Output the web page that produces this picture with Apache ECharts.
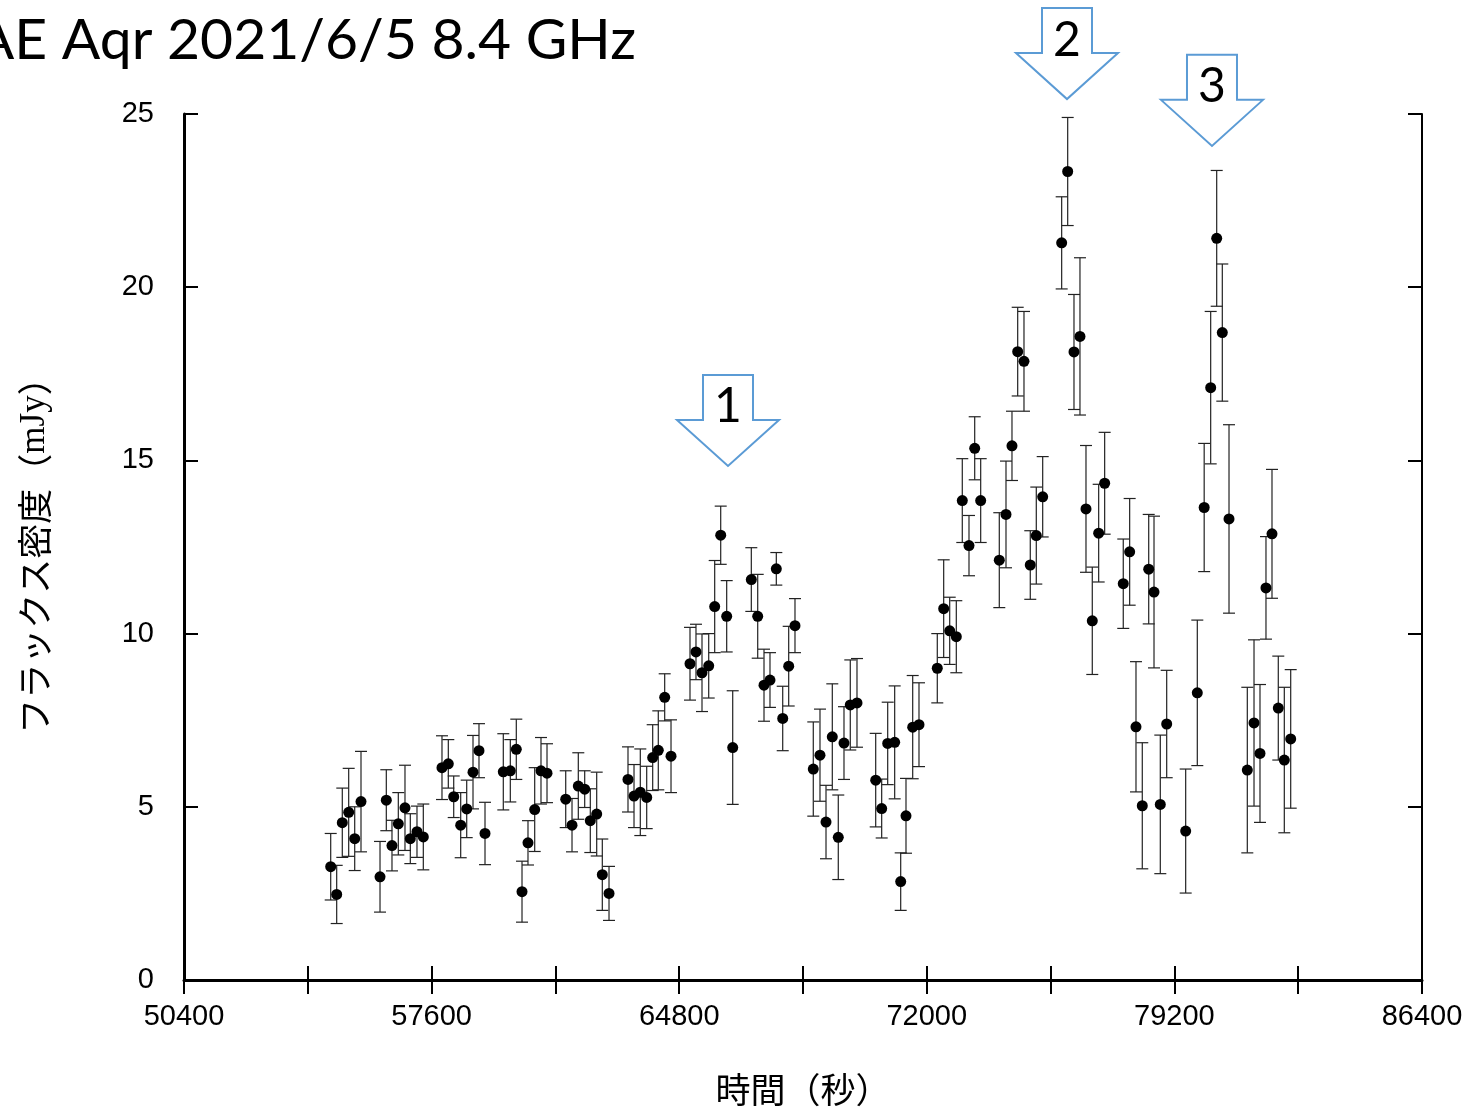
<!DOCTYPE html>
<html>
<head>
<meta charset="utf-8">
<script src="https://cdn.jsdelivr.net/npm/echarts@6/dist/echarts.min.js"></script>
<style>
  html, body { margin: 0; padding: 0; background: #fff; }
  #chart { width: 1474px; height: 1109px; }
</style>
</head>
<body>
<div id="chart"></div>
<script>
// 観測時刻 (秒)
var timeSec = [
  54666, 54840, 55003, 55189, 55364, 55547, 56100, 56283, 56448, 56632,
  56826, 56981, 57175, 57359, 57902, 58086, 58243, 58446, 58621, 58804,
  58978, 59153, 59685, 59889, 60063, 60229, 60403, 60598, 60781, 60956,
  61500, 61683, 61866, 62052, 62215, 62401, 62564, 62759, 63311, 63486,
  63669, 63855, 64029, 64192, 64378, 64562, 65114, 65288, 65463, 65658,
  65832, 66007, 66181, 66356, 66897, 67083, 67266, 67440, 67624, 67810,
  67984, 68167, 68699, 68894, 69069, 69252, 69426, 69592, 69775, 69970,
  70514, 70688, 70863, 71066, 71241, 71395, 71590, 71773, 72305, 72491,
  72666, 72858, 73032, 73227, 73393, 73567, 74108, 74303, 74477, 74643,
  74826, 75009, 75184, 75370, 75922, 76097, 76280, 76454, 76629, 76812,
  76998, 77172, 77713, 77899, 78083, 78266, 78453, 78607, 78790, 78976,
  79528, 79866, 80066, 80255, 80430, 80593, 80788, 81320, 81515, 81689,
  81863, 82038, 82221, 82396, 82582
];
// フラックス密度 (mJy)
var flux = [
  3.27, 2.47, 4.54, 4.84, 4.08, 5.15, 2.98, 5.19, 3.88, 4.51,
  4.97, 4.08, 4.28, 4.13, 6.13, 6.24, 5.29, 4.47, 4.94, 6.00,
  6.62, 4.23, 6.01, 6.04, 6.66, 2.55, 3.96, 4.92, 6.04, 5.97,
  5.22, 4.47, 5.60, 5.51, 4.60, 4.79, 3.04, 2.50, 5.79, 5.31,
  5.42, 5.27, 6.42, 6.63, 8.16, 6.46, 9.13, 9.47, 8.87, 9.07,
  10.78, 12.84, 10.50, 6.71, 11.56, 10.50, 8.51, 8.66, 11.87, 7.55,
  9.06, 10.23, 6.09, 6.49, 4.56, 7.02, 4.12, 6.84, 7.94, 8.00,
  5.77, 4.95, 6.83, 6.86, 2.84, 4.74, 7.30, 7.37, 9.00, 10.72,
  10.08, 9.91, 13.84, 12.54, 15.35, 13.84, 12.12, 13.44, 15.42, 18.14,
  17.86, 11.98, 12.83, 13.95, 21.28, 23.34, 18.13, 18.58, 13.60, 10.37,
  12.90, 14.34, 11.44, 12.36, 7.31, 5.03, 11.86, 11.20, 5.07, 7.39,
  4.30, 8.29, 13.64, 17.10, 21.41, 18.69, 13.31, 6.06, 7.42, 6.54,
  11.32, 12.88, 7.85, 6.35, 6.96
];
// 誤差 (mJy)
var fluxErr = [
  0.96, 0.84, 1.00, 1.27, 0.92, 1.45, 1.02, 0.88, 0.73, 0.90,
  1.23, 0.72, 0.74, 0.95, 0.92, 0.70, 0.60, 0.94, 0.83, 1.06,
  0.78, 0.90, 1.10, 0.90, 0.87, 0.88, 0.64, 1.21, 0.96, 0.85,
  0.82, 0.77, 0.96, 0.53, 0.92, 1.21, 1.03, 0.78, 0.94, 0.91,
  1.25, 0.90, 0.95, 1.14, 0.68, 1.05, 1.05, 0.80, 1.12, 0.93,
  1.33, 0.84, 1.03, 1.64, 0.92, 1.21, 1.04, 0.79, 0.47, 0.93,
  1.15, 0.78, 1.36, 1.33, 1.06, 1.53, 1.22, 1.05, 1.30, 1.28,
  1.35, 0.85, 1.19, 1.63, 0.83, 1.08, 1.49, 1.21, 1.00, 1.41,
  0.97, 1.04, 1.21, 0.87, 0.91, 1.21, 1.37, 1.54, 1.00, 1.28,
  1.44, 0.99, 1.40, 1.16, 1.33, 1.56, 1.66, 2.27, 1.83, 1.55,
  1.41, 1.47, 1.29, 1.54, 1.88, 1.82, 1.58, 2.19, 2.00, 1.55,
  1.79, 2.10, 1.85, 2.20, 1.96, 1.98, 2.72, 2.39, 2.40, 1.99,
  1.48, 1.86, 1.50, 2.10, 2.00
];
var xTickLabels = [50400, 57600, 64800, 72000, 79200, 86400];
// フレアの矢印 (先端の位置: 秒, mJy)
var flareLabels = ['1', '2', '3'];
var flareTime = [66219, 76077, 80293];
var flareFlux = [14.84, 25.43, 24.08];

var chart = echarts.init(document.getElementById('chart'));

var points = timeSec.map(function (t, i) { return [t, flux[i]]; });
var bars = timeSec.map(function (t, i) { return [t, flux[i] - fluxErr[i], flux[i] + fluxErr[i]]; });

var labelFont = 'Liberation Sans';
var xBase = {
  type: 'value', min: 50400, max: 86400, interval: 3600,
  splitLine: { show: false },
  axisTick: { inside: true, length: 14, lineStyle: { color: '#000', width: 2 } }
};
var yBase = {
  type: 'value', min: 0, max: 25, interval: 5,
  splitLine: { show: false },
  axisTick: { inside: true, length: 14, lineStyle: { color: '#000', width: 2 } }
};

var option = {
  animation: false,
  backgroundColor: '#fff',
  grid: { left: 184, right: 52, top: 114, bottom: 129, containLabel: false, outerBoundsMode: 'none' },
  xAxis: [
    Object.assign({}, xBase, {
      position: 'bottom',
      axisLine: { lineStyle: { color: '#000', width: 3 } },
      axisLabel: {
        color: '#000', fontSize: 29, fontFamily: labelFont, margin: 22,
        showMinLabel: true, showMaxLabel: true,
        formatter: function (v) { return xTickLabels.indexOf(v) >= 0 ? String(v) : ''; }
      },
      name: '時間（秒）',
      nameLocation: 'middle',
      nameGap: 92,
      nameTextStyle: { color: '#000', fontSize: 35, fontFamily: 'Noto Sans CJK JP' }
    }),
    Object.assign({}, xBase, {
      position: 'top',
      axisLine: { lineStyle: { color: '#000', width: 2 } },
      axisLabel: { show: false }
    })
  ],
  yAxis: [
    Object.assign({}, yBase, {
      position: 'left',
      axisLine: { lineStyle: { color: '#000', width: 3 } },
      axisLabel: {
        color: '#000', fontSize: 29, fontFamily: labelFont, margin: 30,
        showMinLabel: true, showMaxLabel: true
      },
      name: '{a|フラックス密度（}{b|mJy}{a|）}',
      nameLocation: 'middle',
      nameGap: 132,
      nameTextStyle: {
        color: '#000',
        rich: {
          a: { fontSize: 35, fontFamily: 'Noto Sans CJK JP', color: '#000' },
          b: { fontSize: 35, fontFamily: 'Liberation Serif', color: '#000' }
        }
      }
    }),
    Object.assign({}, yBase, {
      position: 'right',
      axisLine: { lineStyle: { color: '#000', width: 2 } },
      axisLabel: { show: false }
    })
  ],
  series: [
    {
      type: 'custom',
      name: 'err',
      data: bars,
      z: 2,
      renderItem: function (params, api) {
        var x = api.value(0);
        var lo = api.coord([x, api.value(1)]);
        var hi = api.coord([x, api.value(2)]);
        var cap = 6;
        var st = { stroke: '#222', lineWidth: 1.2 };
        return {
          type: 'group',
          children: [
            { type: 'line', shape: { x1: lo[0], y1: lo[1], x2: hi[0], y2: hi[1] }, style: st },
            { type: 'line', shape: { x1: lo[0] - cap, y1: lo[1], x2: lo[0] + cap, y2: lo[1] }, style: st },
            { type: 'line', shape: { x1: hi[0] - cap, y1: hi[1], x2: hi[0] + cap, y2: hi[1] }, style: st }
          ]
        };
      }
    },
    {
      type: 'scatter',
      name: 'flux',
      data: points,
      symbol: 'circle',
      symbolSize: 11,
      itemStyle: { color: '#000', opacity: 1 },
      z: 3
    }
  ]
};
chart.setOption(option);

// 矢印とタイトル
var graphics = [{
  type: 'text',
  x: 636,
  y: 12,
  style: {
    text: 'AE Aqr 2021/6/5 8.4 GHz',
    font: '57px Lato',
    fill: '#000',
    align: 'right',
    verticalAlign: 'top'
  },
  z: 10
}];
flareLabels.forEach(function (lab, i) {
  var tip = chart.convertToPixel({ gridIndex: 0 }, [flareTime[i], flareFlux[i]]);
  var tx = tip[0], ty = tip[1];
  graphics.push({
    type: 'polygon',
    shape: {
      points: [
        [tx - 25, ty - 91], [tx + 25, ty - 91], [tx + 25, ty - 46], [tx + 51, ty - 46],
        [tx, ty], [tx - 51, ty - 46], [tx - 25, ty - 46]
      ]
    },
    style: { fill: '#fff', stroke: '#5b9bd5', lineWidth: 2 },
    z: 10
  });
  graphics.push({
    type: 'text',
    x: tx,
    y: ty - 59,
    style: {
      text: lab,
      font: '48px Lato',
      fill: '#000',
      align: 'center',
      verticalAlign: 'middle'
    },
    z: 11
  });
});
chart.setOption({ graphic: graphics });
</script>
</body>
</html>
